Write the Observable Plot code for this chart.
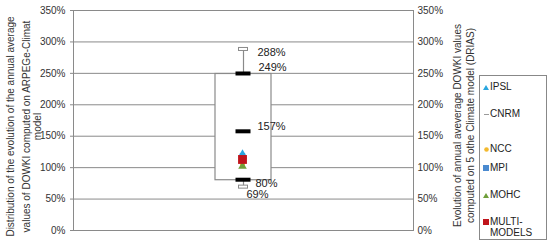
<!DOCTYPE html>
<html>
<head>
<meta charset="utf-8">
<script src="https://cdn.jsdelivr.net/npm/d3@7"></script>
<script src="https://cdn.jsdelivr.net/npm/@observablehq/plot@0.6"></script>
<style>
  body { margin: 0; background: #fff; font-family: "Liberation Sans", Arial, sans-serif; }
  #wrap { position: relative; width: 550px; height: 244px; }
  #legend { position: absolute; left: 479px; top: 75px; width: 66px; height: 163px; border: 1px solid #888; background: #fff; font-size: 10px; color: #222; }
  .item { position: absolute; left: 3px; line-height: 11px; display: flex; align-items: flex-start; }
  .sym { width: 6px; display: inline-block; margin-right: 1px; text-align: center; }
</style>
</head>
<body>
<div id="wrap"></div>
<script>
// ---- data ----
const categories = ["ARPEGE-Climat"];
const yTicks = [0, 50, 100, 150, 200, 250, 300, 350];
const whiskerLow = [69];
const boxQ1 = [80];
const boxMedian = [157];
const boxQ3 = [249];
const whiskerHigh = [288];
const labelValues = [288, 249, 157, 80, 69];
const labelTexts = ["288%", "249%", "157%", "80%", "69%"];
const models = ["IPSL", "CNRM", "NCC", "MPI", "MOHC", "MULTI-MODELS"];
const modelValues = [122, 115, 105, 119, 102, 113];
const leftTitleLines = ["Distribution of the evolution of the annual average", "values of DOWKI computed on ARPEGe-Climat", "model"];
const rightTitleLines = ["Evolution of annual aveverage DOWKI values", "computed on 5 othe Climate model (DRIAS)"];

// ---- styles ----
const modelColors = {"IPSL": "#2aa6df", "CNRM": "#9a9a9a", "NCC": "#f3b92e", "MPI": "#4a8ad0", "MOHC": "#6f9f3a", "MULTI-MODELS": "#c0141b"};
const modelSymbols = {"IPSL": "triangle", "CNRM": "square", "NCC": "circle", "MPI": "square", "MOHC": "triangle", "MULTI-MODELS": "square"};
const modelR = {"IPSL": 3, "CNRM": 0, "NCC": 2.5, "MPI": 3, "MOHC": 3.2, "MULTI-MODELS": 5};
const labelOffsets = [[14, 3], [15, -7], [14, -5], [12, 3], [3, 7]];
const leftTitleDx = [-63, -47, -36];
const rightTitleDx = [44, 57];
const legendTops = [5, 32, 67, 86, 113, 140];

const cat = categories[0];
const grey = "#8a8a8a";
const drawOrder = ["NCC", "MOHC", "MPI", "IPSL", "MULTI-MODELS"];

const marks = [
  Plot.gridY(yTicks, {stroke: grey, strokeOpacity: 1, strokeWidth: 1}),
  Plot.frame({stroke: grey}),
  Plot.axisY(yTicks, {anchor: "left", tickFormat: d => d + "%", tickSize: 3, tickPadding: 5, fontSize: 10, fill: "#333", stroke: grey, label: null}),
  Plot.axisY(yTicks, {anchor: "right", tickFormat: d => d + "%", tickSize: 0, tickPadding: 4, fontSize: 10, fill: "#333", label: null}),
  ...leftTitleLines.map((t, i) => Plot.text([t], {text: d => d, frameAnchor: "left", rotate: -90, dx: leftTitleDx[i], dy: 6, fontSize: 10, fill: "#333", textAnchor: "middle"})),
  ...rightTitleLines.map((t, i) => Plot.text([t], {text: d => d, frameAnchor: "right", rotate: -90, dx: rightTitleDx[i], dy: 5, fontSize: 10, fill: "#333", textAnchor: "middle"})),
  Plot.ruleX(categories, {x: d => d, y1: () => whiskerLow[0], y2: () => whiskerHigh[0], stroke: grey, strokeWidth: 1.2}),
  Plot.barY(categories, {x: d => d, y1: () => boxQ1[0], y2: () => boxQ3[0], fill: "white", stroke: grey, strokeWidth: 1.2}),
  Plot.barY(categories, {x: d => d, y1: () => whiskerHigh[0], y2: () => whiskerHigh[0], insetTop: -1.5, insetBottom: -1.5, insetLeft: 23.5, insetRight: 23.5, fill: "white", stroke: grey, strokeWidth: 1}),
  Plot.barY(categories, {x: d => d, y1: () => whiskerLow[0], y2: () => whiskerLow[0], insetTop: -1.5, insetBottom: -1.5, insetLeft: 23.5, insetRight: 23.5, fill: "white", stroke: grey, strokeWidth: 1}),
  Plot.barY([boxQ1[0], boxMedian[0], boxQ3[0]], {x: () => cat, y1: d => d, y2: d => d, insetTop: -2, insetBottom: -2, insetLeft: 20.5, insetRight: 20.5, fill: "black"}),
  ...labelValues.map((v, i) => Plot.text([v], {x: () => cat, y: d => d, text: () => labelTexts[i], dx: labelOffsets[i][0], dy: labelOffsets[i][1], textAnchor: "start", fontSize: 11, fill: "#222"})),
  Plot.tickY(["CNRM"], {x: () => cat, y: m => modelValues[models.indexOf(m)], stroke: modelColors.CNRM, insetLeft: 24, insetRight: 24}),
  ...drawOrder.map(m => Plot.dot([m], {x: () => cat, y: d => modelValues[models.indexOf(d)], symbol: () => modelSymbols[m], r: modelR[m], fill: modelColors[m], dx: -1}))
];

const chart = Plot.plot({
  width: 550,
  height: 244,
  marginLeft: 73,
  marginRight: 137,
  marginTop: 10,
  marginBottom: 14,
  style: {fontFamily: "Liberation Sans, Arial, sans-serif", background: "white", overflow: "visible"},
  x: {domain: categories, type: "band", paddingInner: 0.717, paddingOuter: 0.717, axis: null},
  y: {domain: [0, 350], axis: null},
  marks
});

const wrap = document.getElementById("wrap");
wrap.appendChild(chart);

const legend = document.createElement("div");
legend.id = "legend";
models.forEach((m, i) => {
  const it = document.createElement("div");
  it.className = "item";
  it.style.top = legendTops[i] + "px";
  const sym = document.createElement("span");
  sym.className = "sym";
  const c = modelColors[m];
  let svg;
  if (m === "IPSL" || m === "MOHC") svg = `<svg width="6" height="11"><path d="M3,4 L6,9 L0,9 Z" fill="${c}"/></svg>`;
  else if (m === "CNRM") svg = `<svg width="6" height="11"><line x1="1" x2="6" y1="6.5" y2="6.5" stroke="${c}"/></svg>`;
  else if (m === "NCC") svg = `<svg width="6" height="11"><circle cx="3.5" cy="6.5" r="2.3" fill="${c}"/></svg>`;
  else svg = `<svg width="6" height="11"><rect x="0" y="3" width="6" height="6" fill="${c}"/></svg>`;
  sym.innerHTML = svg;
  const txt = document.createElement("span");
  txt.innerHTML = m === "MULTI-MODELS" ? "MULTI-<br>MODELS" : m;
  it.appendChild(sym);
  it.appendChild(txt);
  legend.appendChild(it);
});
wrap.appendChild(legend);
</script>
</body>
</html>
